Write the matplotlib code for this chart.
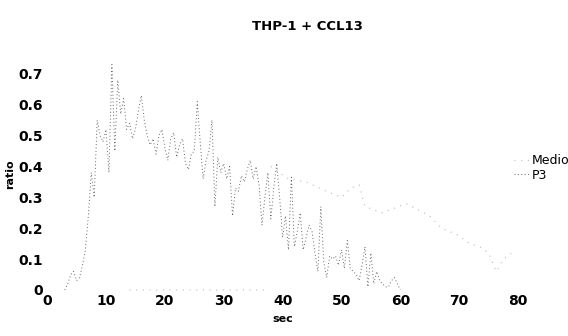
import numpy as np
from matplotlib import pyplot as plt

# P3 trace, sampled every 0.5 s from 3 to 60 s
p3_time = np.arange(3, 60.5, 0.5)
p3_ratio = [
    0.00, 0.02, 0.05, 0.06, 0.03, 0.04, 0.08, 0.13, 0.24, 0.38,
    0.30, 0.55, 0.50, 0.48, 0.52, 0.38, 0.73, 0.45, 0.68, 0.57,
    0.62, 0.52, 0.54, 0.49, 0.52, 0.58, 0.63, 0.55, 0.50, 0.47,
    0.49, 0.44, 0.50, 0.52, 0.46, 0.42, 0.49, 0.51, 0.43, 0.47,
    0.49, 0.41, 0.39, 0.44, 0.45, 0.61, 0.48, 0.36, 0.42, 0.45,
    0.55, 0.27, 0.43, 0.38, 0.41, 0.36, 0.40, 0.24, 0.33, 0.32,
    0.37, 0.35, 0.39, 0.42, 0.36, 0.40, 0.34, 0.21, 0.30, 0.38,
    0.23, 0.33, 0.41, 0.30, 0.17, 0.24, 0.13, 0.37, 0.14, 0.19,
    0.25, 0.13, 0.17, 0.21, 0.19, 0.12, 0.06, 0.27, 0.09, 0.04,
    0.11, 0.10, 0.11, 0.08, 0.13, 0.07, 0.16, 0.07, 0.06, 0.05,
    0.03, 0.08, 0.14, 0.01, 0.12, 0.02, 0.06, 0.03, 0.02, 0.01,
    0.01, 0.03, 0.04, 0.02, 0.00,
]

# Medio trace: flat baseline, then a sparse faint tail
medio_time = [14, 17, 20, 23, 26, 29, 32, 35, 37, None,
              38, 41, 44, 47.4, 50, 51.6, 53, 54, 57, 61,
              63, 65, 67, 69.6, 71.8, 73.5, 75, 76.3, 77.5, 79]
medio_ratio = [0.0, 0.0, 0.0, 0.0, 0.0, 0.0, 0.0, 0.0, 0.0, None,
               0.40, 0.36, 0.35, 0.32, 0.30, 0.33, 0.34, 0.27, 0.25, 0.28,
               0.26, 0.24, 0.20, 0.18, 0.15, 0.14, 0.12, 0.06, 0.10, 0.12]

x_ticks = [0, 10, 20, 30, 40, 50, 60, 70, 80]
y_ticks = [0, 0.1, 0.2, 0.3, 0.4, 0.5, 0.6, 0.7]

medio_t = np.array([np.nan if v is None else v for v in medio_time], dtype=float)
medio_r = np.array([np.nan if v is None else v for v in medio_ratio], dtype=float)

fig = plt.figure(figsize=(5.68, 3.36), dpi=100)
ax = fig.add_axes([0.083, 0.137, 0.829, 0.689])

ax.plot(medio_t, medio_r, color='#bbbbbb', linestyle=(0, (1, 5)),
        linewidth=0.8, label='Medio', clip_on=False)
ax.plot(p3_time, p3_ratio, color='#666666', linestyle=(0, (1, 2.5)),
        linewidth=0.7, label='P3', clip_on=False)

ax.set_xlim(0, 80)
ax.set_ylim(0, 0.75)
ax.set_xticks(x_ticks)
ax.set_xticklabels([str(t) for t in x_ticks])
ax.set_yticks(y_ticks)
ax.set_yticklabels(['0' if t == 0 else f"{t:.1f}" for t in y_ticks])
ax.tick_params(length=0, labelsize=10, pad=3)
for lbl in ax.get_xticklabels() + ax.get_yticklabels():
    lbl.set_fontweight('bold')
for s in ax.spines.values():
    s.set_visible(False)

ax.set_xlabel("sec", fontsize=8, fontweight='bold', labelpad=4)
ax.set_ylabel("ratio", fontsize=8, fontweight='bold', labelpad=2)

fig.text(0.541, 0.92, "THP-1 + CCL13", fontsize=9.5, fontweight='bold',
         ha='center', va='center')

ax.legend(loc='center left', bbox_to_anchor=(0.885, 0.5),
          bbox_transform=fig.transFigure, frameon=False, fontsize=9,
          handlelength=1.2, handletextpad=0.2, labelspacing=0.1)

fig.savefig("out.png", dpi=100)
